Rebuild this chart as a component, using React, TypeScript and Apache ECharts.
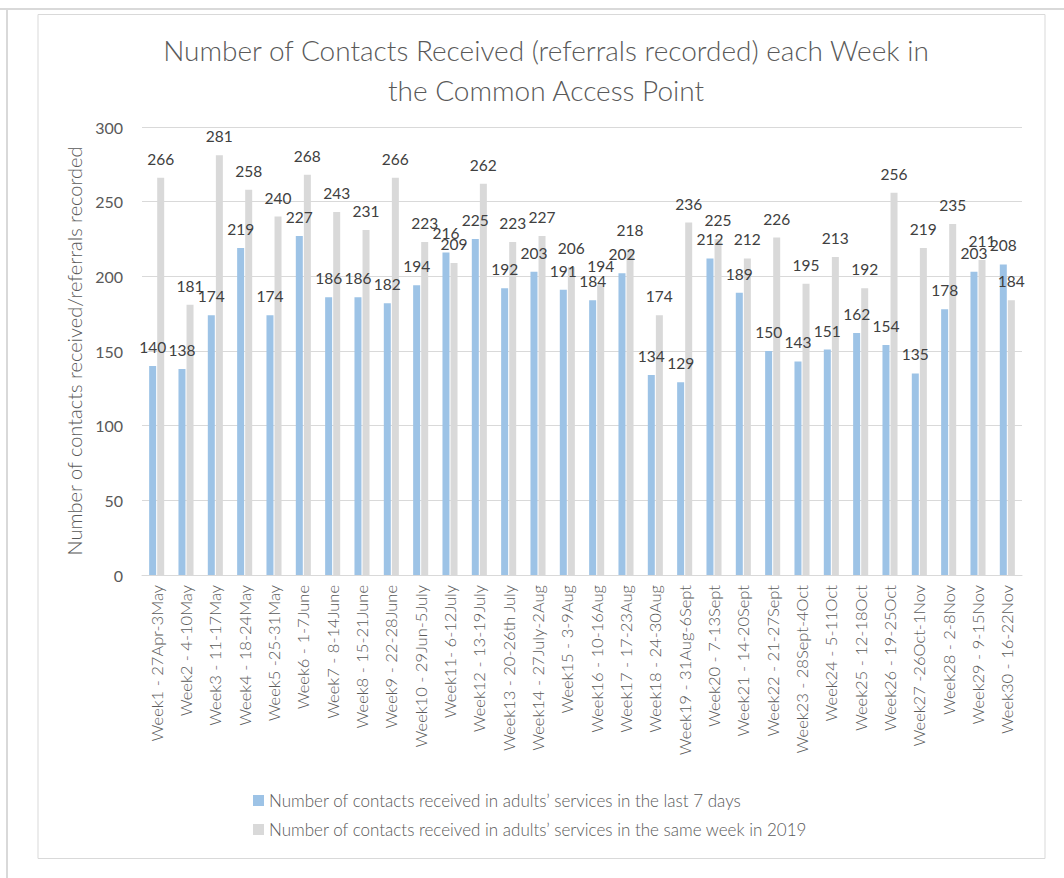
import React, { useEffect, useRef } from "react";
import * as echarts from "echarts";

const categories = [
  "Week1 - 27Apr-3May", "Week2 - 4-10May", "Week3 - 11-17May", "Week4 - 18-24May",
  "Week5 -25-31May", "Week6 - 1-7June", "Week7 - 8-14June", "Week8 - 15-21June",
  "Week9 - 22-28June", "Week10 - 29Jun-5July", "Week11- 6-12July", "Week12 - 13-19July",
  "Week13 - 20-26th July", "Week14 - 27July-2Aug", "Week15 - 3-9Aug", "Week16 - 10-16Aug",
  "Week17 - 17-23Aug", "Week18 - 24-30Aug", "Week19 - 31Aug-6Sept", "Week20 - 7-13Sept",
  "Week21 - 14-20Sept", "Week22 - 21-27Sept", "Week23 - 28Sept-4Oct", "Week24 - 5-11Oct",
  "Week25 - 12-18Oct", "Week26 - 19-25Oct", "Week27 -26Oct-1Nov", "Week28 - 2-8Nov",
  "Week29 - 9-15Nov", "Week30 - 16-22Nov",
];

const last7Days = [
  140, 138, 174, 219, 174, 227, 186, 186, 182, 194, 216, 225, 192, 203, 191,
  184, 202, 134, 129, 212, 189, 150, 143, 151, 162, 154, 135, 178, 203, 208,
];

const sameWeek2019 = [
  266, 181, 281, 258, 240, 268, 243, 231, 266, 223, 209, 262, 223, 227, 206,
  194, 218, 174, 236, 225, 212, 226, 195, 213, 192, 256, 219, 235, 211, 184,
];

const seriesNames = [
  "Number of contacts received in adults’ services in the last 7 days",
  "Number of contacts received in adults’ services in the same week in 2019",
];

const FONT = "Lato, 'Open Sans', sans-serif";

export default function App() {
  const ref = useRef<HTMLDivElement>(null);
  useEffect(() => {
    if (!ref.current) return;
    const chart = echarts.init(ref.current, null, { renderer: "svg" });
    const label = {
      show: true,
      position: "top" as const,
      distance: 11,
      fontSize: 15.5,
      fontWeight: "normal" as const,
      color: "#404040",
      textBorderWidth: 0,
      fontFamily: FONT,
    };
    chart.setOption({
      animation: false,
      textStyle: { fontFamily: FONT },
      title: {
        text: "Number of Contacts Received (referrals recorded) each Week in\nthe Common Access Point",
        left: 541,
        textAlign: "center",
        top: 25,
        textStyle: {
          fontSize: 28,
          fontWeight: 300,
          color: "#595959",
          lineHeight: 40,
          fontFamily: FONT,
        },
      },
      graphic: [
        { type: "line", shape: { x1: 0, y1: 9, x2: 1064, y2: 9 }, style: { stroke: "#d9d9d9", lineWidth: 2 } },
        { type: "line", shape: { x1: 7, y1: 9, x2: 7, y2: 878 }, style: { stroke: "#d9d9d9", lineWidth: 2 } },
        {
          type: "rect",
          shape: { x: 38, y: 14.5, width: 1007, height: 844 },
          style: { fill: "none", stroke: "#d9d9d9", lineWidth: 1 },
        },
      ],
      legend: {
        orient: "vertical",
        left: 248,
        top: 787,
        itemWidth: 11,
        itemHeight: 11,
        itemGap: 12,
        icon: "rect",
        textStyle: { fontSize: 17, color: "#595959", fontFamily: FONT, fontWeight: 300 },
        data: seriesNames,
      },
      grid: { left: 142, right: 42, top: 127, bottom: 303, containLabel: false },
      xAxis: {
        type: "category",
        data: categories,
        axisLine: { lineStyle: { color: "#d9d9d9" } },
        axisTick: { show: false },
        axisLabel: {
          rotate: 90,
          interval: 0,
          fontSize: 16.5,
          color: "#595959",
          margin: 10,
          fontFamily: FONT,
          fontWeight: 300,
        },
      },
      yAxis: {
        type: "value",
        min: 0,
        max: 300,
        interval: 50,
        axisLine: { show: false },
        axisTick: { show: false },
        splitLine: { lineStyle: { color: "#d9d9d9" } },
        axisLabel: { fontSize: 16, color: "#595959", margin: 19, fontFamily: FONT, fontWeight: "normal" },
        name: "Number of contacts received/referrals recorded",
        nameLocation: "middle",
        nameGap: 54,
        nameTextStyle: { fontSize: 20, color: "#595959", fontFamily: FONT, fontWeight: 300 },
      },
      series: [
        {
          name: seriesNames[0],
          type: "bar",
          data: last7Days,
          barWidth: 7,
          barGap: "15%",
          itemStyle: { color: "#9dc3e6" },
          label,
        },
        {
          name: seriesNames[1],
          type: "bar",
          data: sameWeek2019,
          barWidth: 7,
          barGap: "15%",
          itemStyle: { color: "#d9d9d9" },
          label,
        },
      ],
    });
    return () => chart.dispose();
  }, []);
  return (
    <div
      ref={ref}
      style={{ position: "absolute", left: 0, top: 0, width: 1064, height: 878, background: "#fff" }}
    />
  );
}
